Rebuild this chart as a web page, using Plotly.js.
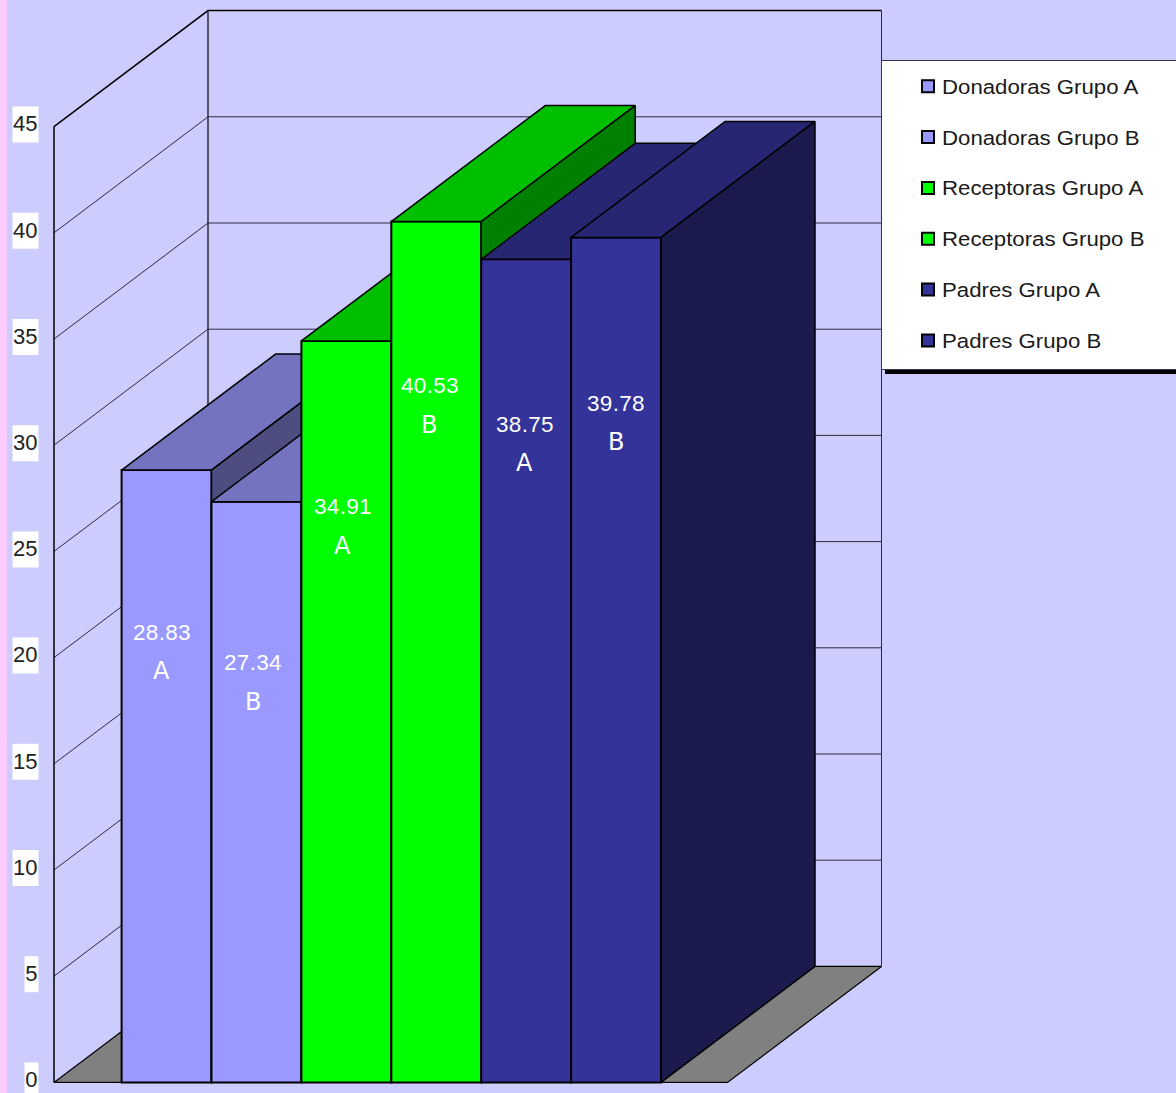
<!DOCTYPE html>
<html>
<head>
<meta charset="utf-8">
<script src="https://cdn.plot.ly/plotly-3.0.1.min.js"></script>
<style>
  html, body { margin: 0; padding: 0; background: #CCCCFF; overflow: hidden; }
  /* wide lettering for the legend entries */
  .legendtext { transform-box: fill-box; transform-origin: 0 50%; transform: translateX(-6px) scaleX(1.14); }
  .annotation-text { letter-spacing: 0.3px; }
  /* axis numbers sit just above their tick marks */
  .ytick { transform: translateY(-3px); }
</style>
</head>
<body>
<div id="chart"></div>
<script>
// Series shown, one bar each
const seriesNames = ['Donadoras Grupo A', 'Donadoras Grupo B', 'Receptoras Grupo A', 'Receptoras Grupo B', 'Padres Grupo A', 'Padres Grupo B'];
const seriesValues = [28.83, 27.34, 34.91, 40.53, 38.75, 39.78];
const groupLetters = ['A', 'B', 'A', 'B', 'A', 'B'];
const tickValues = [0, 5, 10, 15, 20, 25, 30, 35, 40, 45];

// Face colours: front, top, side
const frontColors = ['#9999FF', '#9999FF', '#00FF00', '#00FF00', '#333399', '#333399'];
const topColors = ['#7373BF', '#7373BF', '#00BF00', '#00BF00', '#262673', '#262673'];
const sideColors = ['#4D4D80', '#4D4D80', '#008000', '#008000', '#1A1A4D', '#1A1A4D'];

// Layout of the oblique box (x axis runs in page pixels)
const W = 1176, H = 1093;
const PX_PER_UNIT = 21.24, BASE_PX = 1082.4;
const DEPTH_X = 154, DEPTH_Y = 116 / PX_PER_UNIT;
const WALL_LEFT = 54, FLOOR_WIDTH = 673.5;
const BAR_START = 121.6, BAR_WIDTH = 89.9;
const labelNudgeX = [-5, -3, -3.5, -6.5, -1.5, 0];
const labelDrop = [162, 161, 166, 164, 165, 166];
const LETTER_GAP = 39;

const INK = '#000000', THIN = '#2a2a3a';

function line(xs, ys, width, color, axisSuffix) {
  return { type: 'scatter', mode: 'lines', x: xs, y: ys, showlegend: false, hoverinfo: 'skip',
           line: { color: color, width: width }, xaxis: 'x' + (axisSuffix || ''), yaxis: 'y' + (axisSuffix || '') };
}
function poly(xs, ys, fill, axisSuffix, width) {
  return { type: 'scatter', mode: 'lines', x: xs, y: ys, fill: 'toself', fillcolor: fill, showlegend: false,
           hoverinfo: 'skip', line: { color: INK, width: width === undefined ? 1.5 : width },
           xaxis: 'x' + (axisSuffix || ''), yaxis: 'y' + (axisSuffix || '') };
}

const traces = [];
const backLeft = WALL_LEFT + DEPTH_X, backRight = backLeft + FLOOR_WIDTH;
const topTick = tickValues[tickValues.length - 1];

// Floor
traces.push(poly([WALL_LEFT, backLeft, backRight, WALL_LEFT + FLOOR_WIDTH, WALL_LEFT],
                 [0, DEPTH_Y, DEPTH_Y, 0, 0], '#808080', '', 1.2));
// Gridlines across the side wall and the back wall
tickValues.forEach(function (v) {
  if (v === 0) return;
  traces.push(line([WALL_LEFT, backLeft, backRight], [v, v + DEPTH_Y, v + DEPTH_Y],
                   v === topTick ? 1.5 : 1, v === topTick ? INK : THIN));
});
// Wall edges
traces.push(line([WALL_LEFT, WALL_LEFT], [0, topTick], 1.5, INK));
traces.push(line([backLeft, backLeft], [DEPTH_Y, topTick + DEPTH_Y], 1.5, THIN));
traces.push(line([backRight, backRight], [DEPTH_Y, topTick + DEPTH_Y], 1, THIN));

// Bars, painted left to right on stacked overlay axes so each one hides the depth of the previous one
const layout = {
  width: W, height: H, margin: { l: 0, r: 0, t: 0, b: 0, pad: 0 },
  paper_bgcolor: '#CCCCFF', plot_bgcolor: 'rgba(0,0,0,0)', showlegend: true,
  xaxis: { range: [0, W], visible: false, fixedrange: true },
  yaxis: {
    range: [(BASE_PX - H) / PX_PER_UNIT, BASE_PX / PX_PER_UNIT], anchor: 'free', position: WALL_LEFT / W,
    tickmode: 'array', tickvals: tickValues, ticktext: tickValues.map(String), ticks: 'outside', ticklen: 12,
    tickwidth: 1.5, tickcolor: '#555566', showgrid: false, showline: false, zeroline: false, fixedrange: true,
    ticklabeloverflow: 'allow',
    tickfont: { family: 'Liberation Sans', size: 22, color: '#222222' }
  },
  legend: {
    x: 908 / W, xanchor: 'left', y: 1 - 67 / H, yanchor: 'top', bgcolor: 'rgba(0,0,0,0)', borderwidth: 0,
    tracegroupgap: 22.5, font: { family: 'Liberation Sans', size: 19.5, color: '#1a1a1a' }, itemclick: false, itemdoubleclick: false
  },
  shapes: [
    // Page edge stripe
    { type: 'rect', xref: 'x', yref: 'paper', x0: 0, x1: 7, y0: 0, y1: 1, layer: 'below', fillcolor: '#FFCCFF', line: { width: 0 } },
    // Legend panel and its shadow
    { type: 'rect', xref: 'x', yref: 'paper', x0: 885, x1: W + 2, y0: 1 - 374 / H, y1: 1 - 360 / H, layer: 'above', fillcolor: '#000000', line: { width: 0 } },
    { type: 'rect', xref: 'x', yref: 'paper', x0: 881.5, x1: W + 4, y0: 1 - 369.5 / H, y1: 1 - 60.5 / H, layer: 'above', fillcolor: '#FFFFFF', line: { color: '#333344', width: 1 } }
  ],
  annotations: []
};

// White plates behind the axis numbers
tickValues.forEach(function (v) {
  const plate = String(v).length > 1 ? 26 : 14;
  layout.shapes.push({ type: 'rect', xref: 'x', yref: 'y', x0: 38.5 - plate, x1: 38.5,
    y0: v - 16 / PX_PER_UNIT, y1: v + 20 / PX_PER_UNIT, layer: 'below', fillcolor: '#FFFFFF', line: { width: 0 } });
});

seriesValues.forEach(function (value, i) {
  const n = String(i + 2);
  const left = BAR_START + BAR_WIDTH * i, right = left + BAR_WIDTH, mid = left + BAR_WIDTH / 2;
  layout['xaxis' + n] = { overlaying: 'x', matches: 'x', anchor: 'y' + n, visible: false, fixedrange: true };
  layout['yaxis' + n] = { overlaying: 'y', matches: 'y', anchor: 'x' + n, visible: false, fixedrange: true };

  traces.push(poly([left, right, right + DEPTH_X, left + DEPTH_X, left],
                   [value, value, value + DEPTH_Y, value + DEPTH_Y, value], topColors[i], n));
  traces.push(poly([right, right + DEPTH_X, right + DEPTH_X, right, right],
                   [0, DEPTH_Y, value + DEPTH_Y, value, 0], sideColors[i], n));
  traces.push({
    type: 'bar', name: seriesNames[i], x: [mid], y: [value], width: BAR_WIDTH, legendgroup: 'g' + i,
    marker: { color: frontColors[i], line: { color: INK, width: 2 } }, xaxis: 'x' + n, yaxis: 'y' + n,
    hovertemplate: '%{y}<extra>' + seriesNames[i] + '</extra>'
  });

  layout.annotations.push({ xref: 'x', yref: 'y', x: mid + labelNudgeX[i], y: value, yshift: -labelDrop[i],
    text: value.toFixed(2), showarrow: false, font: { family: 'Liberation Sans', size: 22.5, color: '#FFFFFF' } });
  layout.annotations.push({ xref: 'x', yref: 'y', x: mid + labelNudgeX[i], y: value, yshift: -labelDrop[i] - LETTER_GAP,
    text: groupLetters[i], showarrow: false, font: { family: 'DejaVu Sans', size: 24, color: '#FFFFFF' } });
});

Plotly.newPlot('chart', traces, layout, { displayModeBar: false });
</script>
</body>
</html>
